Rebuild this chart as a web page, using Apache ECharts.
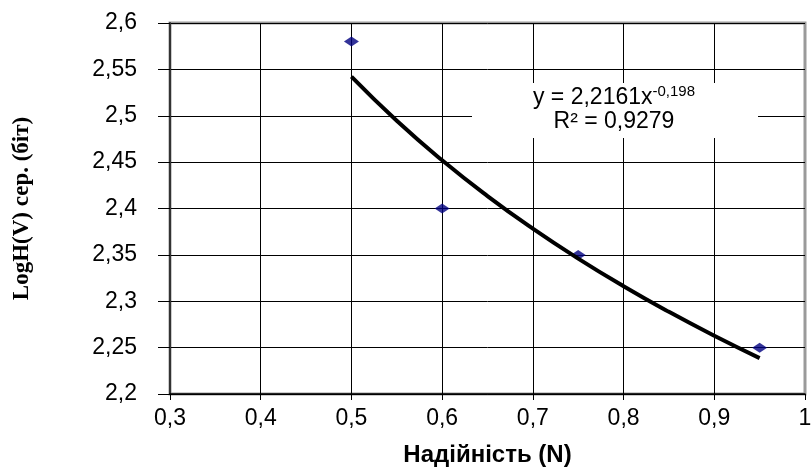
<!DOCTYPE html>
<html>
<head>
<meta charset="utf-8">
<script src="https://cdn.jsdelivr.net/npm/echarts@6/dist/echarts.min.js"></script>
<style>
  html, body { margin: 0; padding: 0; background: #fff; }
  #chart { width: 811px; height: 467px; }
</style>
</head>
<body>
<div id="chart"></div>
<script>
// Measured points: reliability N vs mean LogH(V)
const reliability = [0.5, 0.6, 0.75, 0.95];
const logH = [2.58, 2.40, 2.35, 2.25];

// Tick labels (decimal comma)
const xTickLabels = ['0,3', '0,4', '0,5', '0,6', '0,7', '0,8', '0,9', '1'];
const yTickLabels = ['2,2', '2,25', '2,3', '2,35', '2,4', '2,45', '2,5', '2,55', '2,6'];

// Power trend line y = a * x^b, as printed in the equation box
const trendA = 2.2161;
const trendB = -0.198;
const trendR2 = '0,9279';
const trendX = [0.5, 0.55, 0.6, 0.65, 0.7, 0.75, 0.8, 0.85, 0.9, 0.95];

const trendPoints = trendX.map(x => [x, trendA * Math.pow(x, trendB)]);
const scatterPoints = reliability.map((x, i) => [x, logH[i]]);

const chart = echarts.init(document.getElementById('chart'), null, { renderer: 'canvas' });

const sans = '"Liberation Sans", Arial, sans-serif';

chart.setOption({
  animation: false,
  backgroundColor: '#fff',
  grid: {
    left: 170, right: 6, top: 23, bottom: 73,
    containLabel: false,
    outerBoundsMode: 'none',
    show: true, backgroundColor: '#fff', borderColor: '#9a9a9a', borderWidth: 3
  },
  xAxis: {
    type: 'value',
    min: 0.3, max: 1, interval: 0.1,
    name: 'Надійність (N)',
    nameLocation: 'middle',
    nameGap: 49,
    nameTextStyle: { fontFamily: sans, fontWeight: 'bold', fontSize: 24, color: '#000' },
    axisLine: { show: true, lineStyle: { color: '#000', width: 1.5 } },
    axisTick: { show: true, length: 6, lineStyle: { color: '#000' } },
    axisLabel: {
      margin: 13, fontFamily: sans, fontSize: 23, color: '#000',
      hideOverlap: false,
      formatter: (v, i) => xTickLabels[i]
    },
    splitLine: { show: true, showMaxLine: false, lineStyle: { color: '#000', width: 1 } }
  },
  yAxis: {
    type: 'value',
    min: 2.2, max: 2.6, interval: 0.05,
    name: 'LogH(V) сер. (біт)',
    nameLocation: 'middle',
    nameGap: 136,
    nameTextStyle: { fontFamily: '"Liberation Serif", "Times New Roman", serif', fontWeight: 'bold', fontSize: 23, color: '#000' },
    axisLine: { show: true, lineStyle: { color: '#333', width: 2 } },
    axisTick: { show: true, length: 12, lineStyle: { color: '#000' } },
    axisLabel: {
      margin: 33, fontFamily: sans, fontSize: 23, color: '#000',
      formatter: (v, i) => yTickLabels[i]
    },
    splitLine: { show: true, lineStyle: { color: '#000', width: 1 } }
  },
  series: [
    {
      type: 'scatter',
      data: scatterPoints,
      symbol: 'diamond',
      symbolSize: [15, 10],
      itemStyle: { color: '#000080' },
      z: 3
    },
    {
      type: 'line',
      data: trendPoints,
      smooth: true,
      showSymbol: false,
      lineStyle: { color: '#000', width: 4 },
      z: 4
    }
  ],
  graphic: [
    {
      type: 'rect',
      z: 50,
      shape: { x: 472, y: 83, width: 286, height: 55 },
      style: { fill: '#fff' }
    },
    {
      type: 'text',
      z: 51,
      x: 614, y: 98,
      style: {
        text: '{m|y = ' + String(trendA).replace('.', ',') + 'x}{s|' + String(trendB).replace('.', ',') + '}',
        align: 'center', verticalAlign: 'middle',
        rich: {
          m: { fontFamily: sans, fontSize: 23, fill: '#000', lineHeight: 26 },
          s: { fontFamily: sans, fontSize: 15, fill: '#000', lineHeight: 26, padding: [0, 0, 13, 0] }
        }
      }
    },
    {
      type: 'text',
      z: 51,
      x: 614, y: 122,
      style: {
        text: 'R² = ' + trendR2,
        align: 'center', verticalAlign: 'middle',
        font: '23px ' + sans,
        fill: '#000'
      }
    }
  ]
});
</script>
</body>
</html>
